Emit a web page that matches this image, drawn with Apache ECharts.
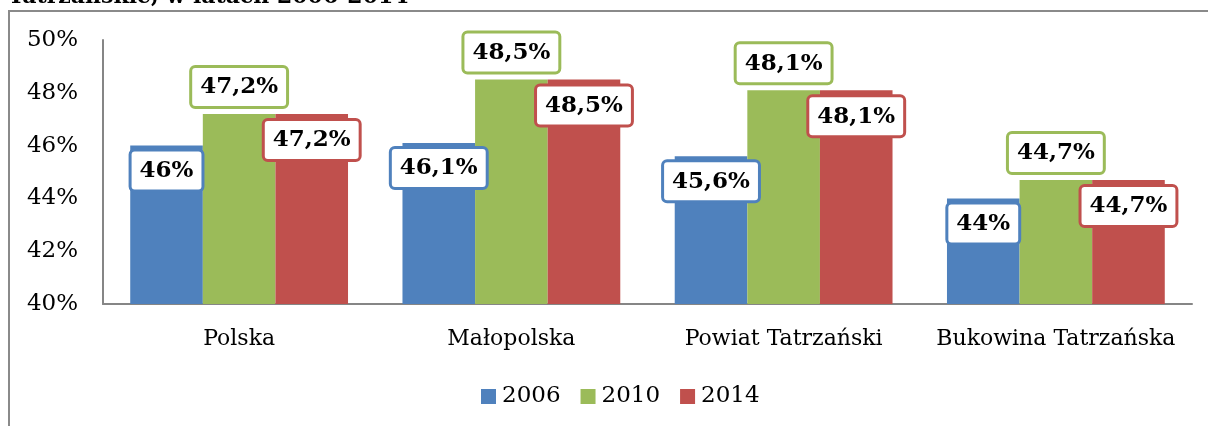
<!DOCTYPE html>
<html>
<head>
<meta charset="utf-8">
<script src="https://cdn.jsdelivr.net/npm/echarts@6/dist/echarts.min.js"></script>
<style>
  html, body { margin: 0; padding: 0; background: #fff; }
  #chart { width: 1208px; height: 426px; }
</style>
</head>
<body>
<div id="chart"></div>
<script>
// dane z wykresu
var categories = ['Polska', 'Małopolska', 'Powiat Tatrzański', 'Bukowina Tatrzańska'];
var years = ['2006', '2010', '2014'];
var values2006 = [46, 46.1, 45.6, 44];
var values2010 = [47.2, 48.5, 48.1, 44.7];
var values2014 = [47.2, 48.5, 48.1, 44.7];
var colors = ['#4F81BD', '#9BBB59', '#C0504D'];
var FONT = 'DejaVu Serif';

function pct(v) {
  return String(v).replace('.', ',') + '%';
}

function makeLabel(color, position, distance) {
  return {
    show: true,
    position: position,
    distance: distance,
    formatter: function (p) { return pct(p.value); },
    fontFamily: FONT,
    fontWeight: 'bold',
    fontSize: 23,
    color: '#000',
    backgroundColor: '#fff',
    borderColor: color,
    borderWidth: 3,
    borderRadius: 3,
    padding: [8, 8, 7, 8]
  };
}

var chart = echarts.init(document.getElementById('chart'));

var option = {
  animation: false,
  color: colors,
  textStyle: { fontFamily: FONT },
  graphic: [
    {
      type: 'rect',
      shape: { x: 9, y: 11, width: 1230, height: 440 },
      style: { fill: 'none', stroke: '#8a8a8a', lineWidth: 2 }
    },
    {
      type: 'text',
      left: 8,
      top: -14,
      style: {
        text: 'Tatrzańskie, w latach 2006-2014',
        fontFamily: FONT,
        fontWeight: 'bold',
        fontSize: 22,
        fill: '#000'
      }
    }
  ],
  legend: {
    data: years,
    left: 476,
    top: 380,
    itemWidth: 15,
    itemHeight: 15,
    itemGap: 20,
    icon: 'rect',
    textStyle: { fontFamily: FONT, fontSize: 23, color: '#000', padding: [0, 0, 0, 1] }
  },
  grid: { left: 103, right: 16, top: 40, bottom: 122 },
  xAxis: {
    type: 'category',
    data: categories,
    axisLine: { lineStyle: { color: '#868686', width: 2 } },
    axisTick: { show: false },
    axisLabel: { interval: 0, fontFamily: FONT, fontSize: 22, color: '#000', margin: 24 }
  },
  yAxis: {
    type: 'value',
    min: 40,
    max: 50,
    interval: 2,
    axisLine: { show: true, lineStyle: { color: '#868686', width: 2 } },
    axisTick: { show: false },
    splitLine: { show: false },
    axisLabel: {
      fontFamily: FONT,
      fontSize: 23,
      color: '#000',
      margin: 25,
      formatter: function (v) { return v + '%'; }
    }
  },
  series: [
    {
      name: years[0], type: 'bar', data: values2006,
      barGap: '0%', barCategoryGap: '20%',
      label: makeLabel(colors[0], 'insideTop', 6)
    },
    {
      name: years[1], type: 'bar', data: values2010,
      barGap: '0%', barCategoryGap: '20%',
      label: makeLabel(colors[1], 'top', 8)
    },
    {
      name: years[2], type: 'bar', data: values2014,
      barGap: '0%', barCategoryGap: '20%',
      label: makeLabel(colors[2], 'insideTop', 7)
    }
  ]
};

chart.setOption(option);
</script>
</body>
</html>
